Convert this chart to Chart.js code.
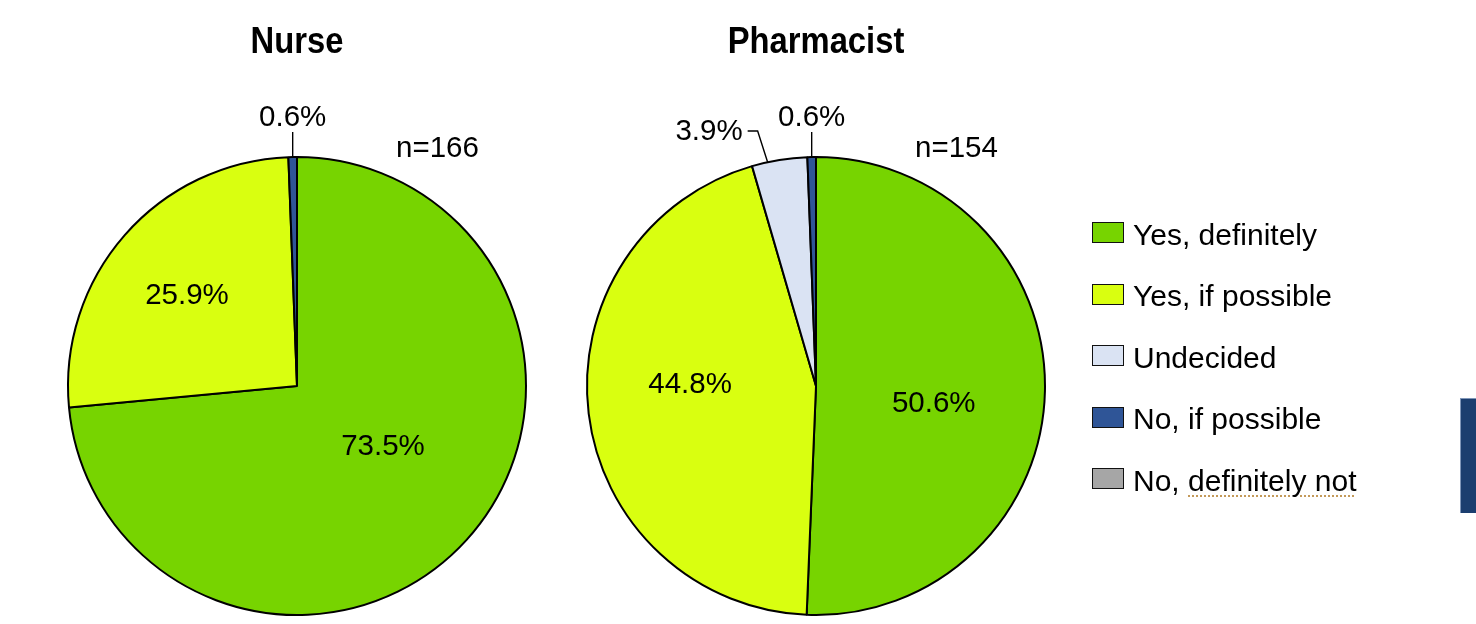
<!DOCTYPE html>
<html>
<head>
<meta charset="utf-8">
<script src="https://cdn.jsdelivr.net/npm/chart.js@4"></script>
<style>
  html, body { margin: 0; padding: 0; background: #fff; }
  body { width: 1476px; height: 624px; position: relative; overflow: hidden;
         font-family: "Liberation Sans", Arial, sans-serif; }
  canvas { position: absolute; top: 0; }
  #nurseWrap { position: absolute; left: -3px; top: 0; width: 600px; height: 624px; }
  #pharmWrap { position: absolute; left: 516px; top: 0; width: 600px; height: 624px; }
  #legend { position: absolute; left: 1092px; top: 222px; }
  .item { display: flex; align-items: center; height: 61.5px; margin-top: 0; }
  .item:first-child { margin-top: -20px; }
  .box { width: 30px; height: 19px; border: 1.5px solid #111; margin-right: 9px; }
  .lbl { font-size: 30px; color: #000; white-space: nowrap; position: relative; top: 2px; }
  .spell { text-decoration: underline dotted #c49a5a; text-underline-offset: 5px; text-decoration-thickness: 1.5px; }
  #edge { position: absolute; left: 1460px; top: 398px; width: 16px; height: 115px;
          background: #1b3e6f; border-left: 1px solid #7f96b8; border-top: 1px solid #7f96b8; box-sizing: border-box; }
</style>
</head>
<body>
<div id="nurseWrap"><canvas id="nurse" width="600" height="624"></canvas></div>
<div id="pharmWrap"><canvas id="pharm" width="600" height="624"></canvas></div>
<div id="legend"></div>
<div id="edge"></div>
<script>
// Response categories (legend order = slice order, clockwise from 12 o'clock)
const categories = ['Yes, definitely', 'Yes, if possible', 'Undecided', 'No, if possible', 'No, definitely not'];
const sliceColors = ['#77d400', '#d9ff10', '#dae3f3', '#2f5597', '#a6a6a6'];

// Share of respondents (%) per group
const nurseValues = [73.5, 25.9, 0, 0.6, 0];
const pharmacistValues = [50.6, 44.8, 3.9, 0.6, 0];

const groupTitles = ['Nurse', 'Pharmacist'];
const sampleSizes = [166, 154];

const FONT = '"Liberation Sans", Arial, sans-serif';
const LABEL_FONT = '29.5px ' + FONT;

// Draws the group title, sample size and per-slice percentage labels
const pieLabels = {
  id: 'pieLabels',
  afterDatasetsDraw(chart, args, opts) {
    const ctx = chart.ctx;
    const meta = chart.getDatasetMeta(0);
    const values = chart.data.datasets[0].data;
    const arc0 = meta.data[0];
    const cx = arc0.x, cy = arc0.y, R = arc0.outerRadius;
    ctx.save();
    ctx.fillStyle = '#000';
    ctx.strokeStyle = '#000';
    ctx.lineWidth = 1.4;

    // title (slightly condensed bold)
    ctx.save();
    ctx.font = 'bold 36px ' + FONT;
    ctx.textAlign = 'center';
    ctx.textBaseline = 'middle';
    ctx.translate(cx, cy - 343);
    ctx.scale(0.91, 1);
    ctx.fillText(opts.title, 0, 0);
    ctx.restore();

    // sample size
    ctx.font = LABEL_FONT;
    ctx.textAlign = 'left';
    ctx.textBaseline = 'middle';
    ctx.fillText('n=' + opts.n, cx + 99, cy - 237);

    meta.data.forEach((arc, i) => {
      const v = values[i];
      if (!v) return;
      const spec = opts.place[i] || {};
      const text = v.toFixed(1) + '%';
      const mid = (arc.startAngle + arc.endAngle) / 2;
      ctx.font = LABEL_FONT;
      if (spec.type === 'callout') {
        const a = mid + (spec.da || 0) * Math.PI / 180;
        const px = cx + Math.cos(a) * R, py = cy + Math.sin(a) * R;
        const ey = cy - R - spec.rise;
        ctx.beginPath();
        ctx.moveTo(px, py);
        if (spec.side === 'left') {
          const ex = px - spec.lean;
          ctx.lineTo(ex, ey);
          ctx.lineTo(ex - spec.arm, ey);
          ctx.stroke();
          ctx.textAlign = 'right';
          ctx.textBaseline = 'middle';
          ctx.fillText(text, ex - spec.arm - 5, ey + 1);
        } else {
          ctx.lineTo(px, ey);
          ctx.stroke();
          ctx.textAlign = 'center';
          ctx.textBaseline = 'middle';
          ctx.fillText(text, px, ey - 14);
        }
      } else {
        const a = mid + (spec.da || 0) * Math.PI / 180;
        const f = spec.f || 0.5;
        ctx.textAlign = 'center';
        ctx.textBaseline = 'middle';
        ctx.fillText(text, cx + Math.cos(a) * R * f, cy + Math.sin(a) * R * f);
      }
    });
    ctx.restore();
  }
};

function makePie(id, values, title, n, place) {
  return new Chart(document.getElementById(id), {
    type: 'pie',
    data: {
      labels: categories,
      datasets: [{
        data: values,
        backgroundColor: sliceColors,
        borderColor: '#000',
        borderWidth: values.map(v => v ? 2 : 0)
      }]
    },
    options: {
      responsive: false,
      animation: false,
      layout: { padding: { left: 70, right: 70, top: 156, bottom: 8 } },
      plugins: {
        legend: { display: false },
        tooltip: { enabled: false },
        pieLabels: { title, n, place }
      }
    },
    plugins: [pieLabels]
  });
}

makePie('nurse', nurseValues, groupTitles[0], sampleSizes[0], [
  { f: 0.46, da: -7 },
  { f: 0.62, da: -2 },
  {},
  { type: 'callout', rise: 25, side: 'up' }
]);

makePie('pharm', pharmacistValues, groupTitles[1], sampleSizes[1], [
  { f: 0.52, da: 7.5 },
  { f: 0.55, da: 7.5 },
  { type: 'callout', da: -3, rise: 26, side: 'left', lean: 10, arm: 10 },
  { type: 'callout', rise: 25, side: 'up' }
]);

// Legend
const legend = document.getElementById('legend');
categories.forEach((c, i) => {
  const row = document.createElement('div');
  row.className = 'item';
  const box = document.createElement('div');
  box.className = 'box';
  box.style.background = sliceColors[i];
  const lbl = document.createElement('span');
  lbl.className = 'lbl';
  if (c === 'No, definitely not') {
    lbl.innerHTML = 'No, <span class="spell">definitely not</span>';
  } else {
    lbl.textContent = c;
  }
  row.appendChild(box);
  row.appendChild(lbl);
  legend.appendChild(row);
});
</script>
</body>
</html>
